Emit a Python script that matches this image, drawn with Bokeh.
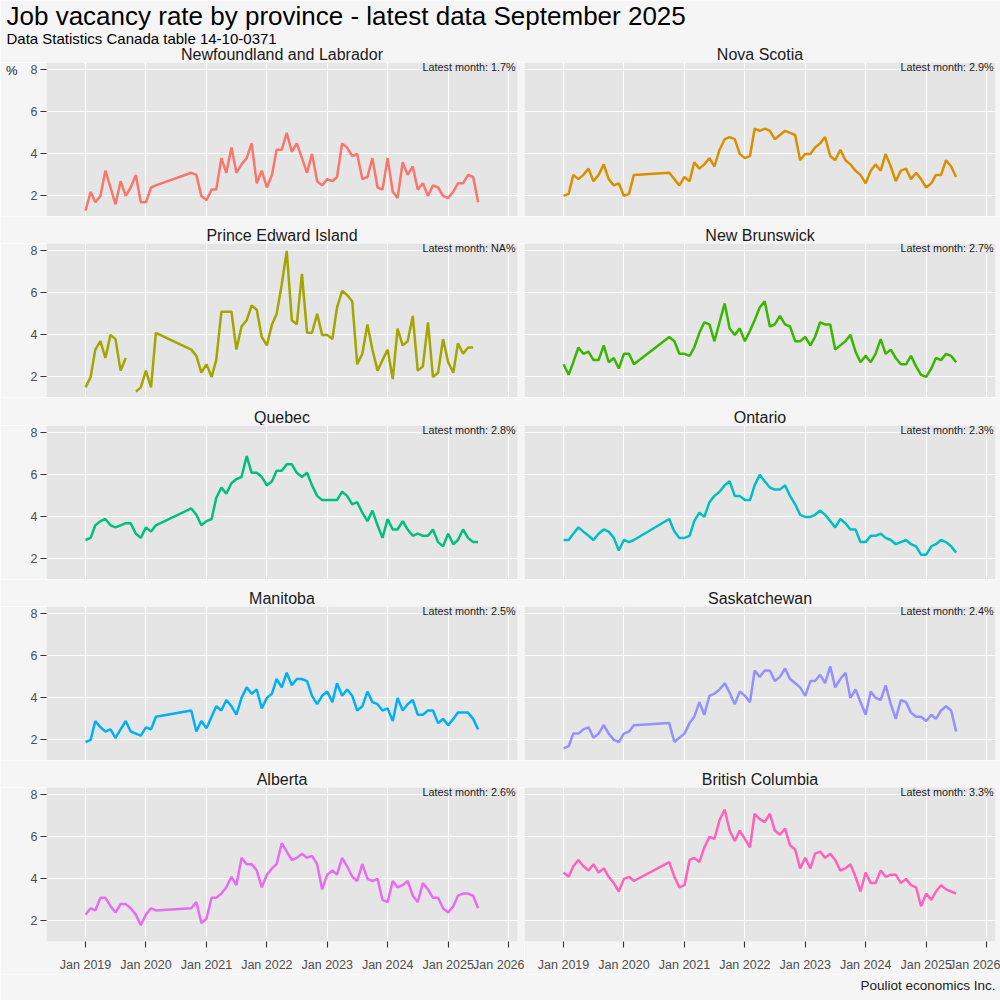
import math
import pandas as pd
from bokeh.plotting import figure
from bokeh.layouts import column, row
from bokeh.models import (Label, FixedTicker, DatetimeTickFormatter, Range1d,
                          ColumnDataSource, LinearAxis, DatetimeAxis, Grid)
from bokeh.embed import file_html
from bokeh.resources import INLINE

NaN = float("nan")

# ---------------- data ----------------
dates = list(pd.date_range("2019-01-01", "2020-03-01", freq="MS")) + \
        list(pd.date_range("2020-10-01", "2025-07-01", freq="MS"))

provinces = ["Newfoundland and Labrador", "Nova Scotia", "Prince Edward Island",
             "New Brunswick", "Quebec", "Ontario", "Manitoba", "Saskatchewan",
             "Alberta", "British Columbia"]
colors = ["#F8766D", "#D89000", "#A3A500", "#39B600", "#00BF7D",
          "#00BFC4", "#00B0F6", "#9590FF", "#E76BF3", "#FF62BC"]

nl = [1.3, 2.2, 1.7, 2.0, 3.2, 2.4, 1.6, 2.7, 2.0, 2.4, 3.0, 1.7, 1.7, 2.4, 2.5,
      3.1, 3.0, 2.0, 1.8, 2.3, 2.3, 3.8, 3.1, 4.3, 3.1, 3.5, 3.8, 4.5, 2.6, 3.2,
      2.4, 3.0, 4.2, 4.2, 5.0, 4.1, 4.5, 3.8, 3.1, 4.0, 2.7, 2.5, 2.8, 2.7, 2.9,
      4.5, 4.3, 3.9, 4.0, 2.8, 2.9, 3.8, 2.4, 2.3, 3.8, 2.2, 1.9, 3.6, 3.0, 3.4,
      2.3, 2.6, 2.0, 2.5, 2.4, 2.0, 1.9, 2.2, 2.6, 2.6, 3.0, 2.9, 1.7]
ns = [2.0, 2.1, 3.0, 2.8, 3.0, 3.3, 2.7, 3.0, 3.5, 2.8, 2.5, 2.6, 2.0, 2.1, 3.0,
      3.1, 2.8, 2.5, 2.9, 2.7, 3.6, 3.3, 3.5, 3.8, 3.4, 4.2, 4.7, 4.8, 4.7, 4.0,
      3.8, 3.9, 5.2, 5.1, 5.2, 5.1, 4.7, 4.9, 5.1, 5.0, 4.9, 3.7, 4.0, 4.0, 4.3,
      4.5, 4.8, 3.9, 3.7, 4.2, 3.7, 3.5, 3.2, 3.0, 2.6, 3.2, 3.5, 3.2, 4.0, 3.4,
      2.7, 3.2, 3.3, 2.8, 3.1, 2.8, 2.4, 2.6, 3.0, 3.0, 3.7, 3.4, 2.9]
pei = [1.5, 2.0, 3.3, 3.7, 2.9, 4.0, 3.8, 2.3, 2.9, NaN, 1.3, 1.5, 2.3, 1.5, 4.1,
       3.3, 3.0, 2.2, 2.6, 2.0, 2.8, 5.1, 5.1, 5.1, 3.3, 4.4, 4.7, 5.4, 5.2, 3.9,
       3.5, 4.5, 5.0, 6.4, 8.0, 4.7, 4.5, 6.9, 4.1, 4.1, 5.0, 4.0, 4.0, 3.8, 5.3,
       6.1, 5.9, 5.6, 2.6, 3.1, 4.5, 3.3, 2.3, 2.8, 3.3, 1.9, 4.3, 3.5, 3.7, 4.9,
       2.3, 2.5, 4.6, 2.0, 2.2, 3.8, 2.7, 2.2, 3.6, 3.1, 3.4, 3.4, NaN]
nb = [2.6, 2.1, 2.7, 3.4, 3.1, 3.2, 2.8, 2.8, 3.5, 2.7, 2.9, 2.4, 3.1, 3.1, 2.6,
      3.9, 3.7, 3.1, 3.1, 3.0, 3.4, 4.1, 4.6, 4.5, 3.7, 4.6, 5.5, 4.3, 4.0, 4.3,
      3.7, 4.2, 4.7, 5.3, 5.6, 4.4, 4.5, 4.9, 4.5, 4.4, 3.7, 3.7, 3.9, 3.5, 3.9,
      4.6, 4.5, 4.5, 3.3, 3.5, 3.7, 4.0, 3.2, 2.7, 3.0, 2.7, 3.1, 3.8, 3.1, 3.3,
      2.9, 2.6, 2.6, 3.0, 2.5, 2.1, 2.0, 2.4, 2.9, 2.8, 3.1, 3.0, 2.7]
qc = [2.9, 3.0, 3.6, 3.8, 3.9, 3.6, 3.5, 3.6, 3.7, 3.7, 3.2, 3.0, 3.5, 3.3, 3.6,
      4.4, 4.1, 3.6, 3.8, 3.9, 4.9, 5.4, 5.1, 5.6, 5.8, 5.9, 6.9, 6.1, 6.1, 5.9,
      5.5, 5.7, 6.2, 6.2, 6.5, 6.5, 6.1, 5.9, 6.1, 5.5, 5.0, 4.8, 4.8, 4.8, 4.8,
      5.2, 5.0, 4.6, 4.7, 4.2, 3.8, 4.3, 3.6, 3.0, 3.9, 3.4, 3.4, 3.8, 3.4, 3.1,
      3.2, 3.1, 3.1, 3.4, 2.8, 2.6, 3.2, 2.7, 2.9, 3.4, 3.0, 2.8, 2.8]
on = [2.9, 2.9, 3.2, 3.5, 3.3, 3.1, 2.9, 3.2, 3.4, 3.3, 3.0, 2.4, 2.9, 2.8, 2.9,
      3.9, 3.3, 3.0, 3.0, 3.1, 3.8, 4.2, 4.0, 4.7, 5.0, 5.2, 5.5, 5.7, 5.0, 5.0,
      4.8, 4.8, 5.5, 6.0, 5.7, 5.4, 5.3, 5.3, 5.5, 5.0, 4.6, 4.1, 4.0, 4.0, 4.1,
      4.3, 4.1, 3.8, 3.5, 3.9, 3.7, 3.4, 3.4, 2.8, 2.8, 3.1, 3.1, 3.2, 3.0, 2.9,
      2.7, 2.8, 2.9, 2.7, 2.6, 2.2, 2.2, 2.6, 2.7, 2.9, 2.8, 2.6, 2.3]
mb = [1.9, 2.0, 2.9, 2.6, 2.4, 2.5, 2.1, 2.5, 2.9, 2.4, 2.3, 2.2, 2.6, 2.5, 3.1,
      3.4, 2.4, 2.9, 2.55, 3.1, 3.6, 3.4, 3.9, 3.6, 3.2, 4.0, 4.5, 4.2, 4.4, 3.5,
      4.0, 4.2, 4.9, 4.5, 5.2, 4.6, 4.9, 4.9, 4.8, 4.1, 3.7, 4.1, 4.3, 3.8, 4.7,
      4.1, 4.4, 4.1, 3.4, 3.6, 4.3, 3.8, 3.7, 3.4, 3.5, 2.9, 4.0, 3.4, 3.7, 3.9,
      3.2, 3.2, 3.4, 3.4, 2.8, 3.0, 2.7, 3.0, 3.3, 3.3, 3.3, 3.0, 2.5]
sk = [1.6, 1.7, 2.3, 2.3, 2.5, 2.6, 2.1, 2.3, 2.7, 2.3, 2.0, 1.9, 2.3, 2.4, 2.7,
      2.8, 1.9, 2.1, 2.3, 2.8, 3.1, 3.8, 3.2, 4.1, 4.2, 4.4, 4.7, 4.25, 3.7, 4.3,
      4.1, 3.8, 5.3, 5.0, 5.3, 5.3, 4.8, 5.0, 5.4, 4.9, 4.7, 4.5, 4.1, 4.8, 4.8,
      5.1, 4.7, 5.5, 4.5, 4.9, 5.2, 4.0, 4.4, 3.8, 3.2, 4.3, 4.0, 3.9, 4.6, 3.7,
      3.0, 3.9, 3.8, 3.3, 3.1, 3.1, 2.9, 3.2, 3.0, 3.4, 3.6, 3.4, 2.4]
ab = [2.3, 2.6, 2.5, 3.1, 3.1, 2.7, 2.4, 2.8, 2.8, 2.6, 2.3, 1.8, 2.3, 2.6, 2.5,
      2.6, 2.9, 1.9, 2.1, 3.1, 3.1, 3.3, 3.6, 4.1, 3.7, 5.0, 4.7, 4.7, 4.4, 3.6,
      4.2, 4.5, 4.7, 5.7, 5.3, 4.9, 5.0, 5.2, 5.0, 5.1, 4.7, 3.5, 4.2, 4.4, 4.2,
      5.0, 4.6, 4.1, 3.9, 4.7, 4.0, 3.9, 4.0, 3.0, 2.9, 3.9, 3.6, 3.7, 3.9, 3.2,
      2.9, 3.8, 3.5, 3.1, 3.1, 2.6, 2.4, 2.7, 3.2, 3.3, 3.3, 3.2, 2.6]
bc = [4.3, 4.1, 4.6, 4.9, 4.6, 4.4, 4.7, 4.3, 4.5, 4.1, 3.8, 3.4, 4.0, 4.1, 3.9,
      4.8, 4.1, 3.6, 3.7, 4.9, 5.0, 4.8, 5.5, 6.0, 5.9, 6.8, 7.3, 6.3, 5.8, 6.3,
      5.9, 5.5, 7.1, 6.85, 6.7, 7.1, 6.3, 6.1, 6.4, 5.6, 5.4, 4.5, 5.0, 4.5, 5.2,
      5.3, 5.0, 5.2, 4.9, 4.4, 4.5, 4.7, 4.1, 3.4, 4.3, 3.8, 3.8, 4.4, 4.1, 4.2,
      4.2, 3.8, 4.0, 3.7, 3.6, 2.7, 3.3, 3.0, 3.4, 3.7, 3.5, 3.4, 3.3]
series = [nl, ns, pei, nb, qc, on, mb, sk, ab, bc]

year_ticks = [pd.Timestamp(f"{y}-01-01") for y in range(2019, 2027)]
y_ticks = [2, 4, 6, 8]

title_text = "Job vacancy rate by province - latest data September 2025"
subtitle_text = "Data Statistics Canada table 14-10-0371"
caption_text = "Pouliot economics Inc."
y_label = "%"

# ---------------- layout / style ----------------
FONT = "Liberation Sans"
PAGE_BG = "#F5F5F5"
PANEL_BG = "#E5E5E5"
TXT = "#1A1A1A"
W = 1000
FW, FH = 471, 154
LB, MID_GAP, RB = 46, 7, 5          # left border, gap between panels, right border
HEADER_H = 62
STRIP_H = [27, 28, 27, 27]
BOTTOM_B = 33
FOOTER_H = 26
LEFT_CENTER = LB + FW / 2
RIGHT_CENTER = LB + FW + MID_GAP + FW / 2
STRIP_FS = 16

x_start = pd.Timestamp("2018-05-10")
x_end = pd.Timestamp("2026-02-24")
y_start, y_end = 1.02, 8.35

xr = Range1d(start=x_start, end=x_end)
yr = Range1d(start=y_start, end=y_end)

x_tick_ms = [t.timestamp() * 1000 for t in year_ticks]
fmt_str = "%b %Y"


def plain_fig(height):
    f = figure(frame_width=W, frame_height=height, x_range=Range1d(0, W),
               y_range=Range1d(height, 0), x_axis_location=None,
               y_axis_location=None, title=None, toolbar_location=None,
               output_backend="svg", min_border=0)
    f.grid.visible = False
    f.background_fill_color = PAGE_BG
    f.border_fill_color = PAGE_BG
    f.outline_line_color = None
    return f


def strip_labels(f, names, center_y):
    for cx, name in zip([LEFT_CENTER, RIGHT_CENTER], names):
        f.add_layout(Label(x=cx, y=center_y, text=name, text_align="center",
                           text_baseline="middle", text_font=FONT,
                           text_font_size=f"{STRIP_FS}px", text_color=TXT))


def style_axis(ax):
    ax.axis_line_color = None
    ax.major_tick_in = 0
    ax.major_tick_out = 6
    ax.minor_tick_in = 0
    ax.minor_tick_out = 0
    ax.major_tick_line_color = "#333333"
    ax.major_tick_line_width = 1.1
    ax.major_label_text_color = "#4D4D4D"
    ax.major_label_text_font = FONT
    ax.major_label_text_font_size = "12.5px"


def make_panel(i):
    r, c = divmod(i, 2)
    left = c == 0
    bottom = r == 4
    p = figure(frame_width=FW, frame_height=FH, x_range=xr, y_range=yr,
               x_axis_location=None, y_axis_location=None, title=None,
               toolbar_location=None, output_backend="svg")
    p.grid.visible = False
    p.min_border_left = LB if left else 0
    p.min_border_right = MID_GAP if left else RB
    p.min_border_top = 0
    p.min_border_bottom = BOTTOM_B if bottom else 0
    p.background_fill_color = PANEL_BG
    p.border_fill_color = PAGE_BG
    p.outline_line_color = None

    p.add_layout(Grid(dimension=0, ticker=FixedTicker(ticks=x_tick_ms),
                      grid_line_color="white", grid_line_width=1.1))
    p.add_layout(Grid(dimension=1, ticker=FixedTicker(ticks=y_ticks),
                      grid_line_color="white", grid_line_width=1.1))

    if left:
        yax = LinearAxis(ticker=FixedTicker(ticks=y_ticks))
        style_axis(yax)
        yax.major_label_standoff = 3
        p.add_layout(yax, "left")
        if i == 0:
            pct = LinearAxis(ticker=FixedTicker(ticks=[8]),
                             major_label_overrides={8: y_label})
            style_axis(pct)
            pct.major_tick_out = 0
            pct.major_label_standoff = 10
            pct.major_label_text_color = TXT
            pct.major_label_text_font_size = "13px"
            p.add_layout(pct, "left")
    if bottom:
        xax = DatetimeAxis(ticker=FixedTicker(ticks=x_tick_ms),
                           formatter=DatetimeTickFormatter(
                               years=fmt_str, months=fmt_str, days=fmt_str,
                               hours=fmt_str, minutes=fmt_str, seconds=fmt_str,
                               milliseconds=fmt_str, microseconds=fmt_str))
        style_axis(xax)
        xax.major_label_standoff = 10
        p.add_layout(xax, "below")

    src = ColumnDataSource(dict(date=dates, v=series[i]))
    p.line(x="date", y="v", source=src, line_width=2.5, line_color=colors[i])

    last = series[i][-1]
    last_txt = "NA" if (last is None or math.isnan(last)) else f"{last:g}"
    p.add_layout(Label(x=x_end, y=y_end, x_offset=-2, y_offset=1.5,
                       text=f"Latest month: {last_txt}%", text_align="right",
                       text_baseline="top", text_font=FONT,
                       text_font_size="10.8px", text_color=TXT))
    return p


header = plain_fig(HEADER_H)
header.add_layout(Label(x=6, y=15.5, text=title_text, text_align="left",
                        text_baseline="middle", text_font=FONT,
                        text_font_size="26px", text_color="black"))
header.add_layout(Label(x=6, y=38.2, text=subtitle_text, text_align="left",
                        text_baseline="middle", text_font=FONT,
                        text_font_size="15px", text_color="black"))
strip_labels(header, provinces[0:2], HEADER_H - 8)

panels = [make_panel(i) for i in range(10)]
items = [header]
for r in range(5):
    items.append(row(panels[2 * r], panels[2 * r + 1], spacing=0))
    if r < 4:
        h = STRIP_H[r]
        s = plain_fig(h)
        strip_labels(s, provinces[2 * r + 2:2 * r + 4], h - 8)
        items.append(s)

footer = plain_fig(FOOTER_H)
footer.add_layout(Label(x=W - 5, y=11, text=caption_text, text_align="right",
                        text_baseline="middle", text_font=FONT,
                        text_font_size="13.5px", text_color=TXT))
items.append(footer)

layout = column(*items, spacing=0)

open("out.html", "w").write(file_html(layout, INLINE))
